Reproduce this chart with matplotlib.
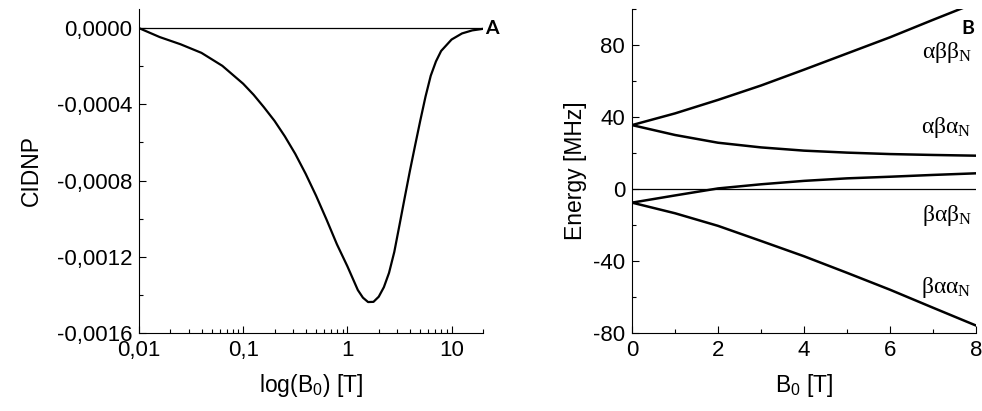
import matplotlib
matplotlib.use("Agg")
import numpy as np
import matplotlib.pyplot as plt
from matplotlib.ticker import FuncFormatter, MultipleLocator, LogLocator, NullFormatter

# panel A: CIDNP vs field (log scale)
b_log = [0.01, 0.0158, 0.0251, 0.0398, 0.0631, 0.1, 0.126, 0.158, 0.2, 0.251,
         0.316, 0.398, 0.501, 0.631, 0.794, 1.0, 1.26, 1.41, 1.58, 1.78, 2.0,
         2.24, 2.51, 2.82, 3.16, 3.55, 3.98, 4.47, 5.01, 5.62, 6.31, 7.08,
         7.94, 10.0, 12.6, 15.8, 20.0]
cidnp_e4 = [0, -0.47, -0.85, -1.30, -1.98, -2.92, -3.50, -4.15, -4.87, -5.68,
            -6.60, -7.65, -8.80, -10.05, -11.35, -12.5, -13.75, -14.15, -14.38,
            -14.37, -14.1, -13.6, -12.85, -11.75, -10.35, -8.9, -7.5, -6.15,
            -4.85, -3.6, -2.5, -1.75, -1.2, -0.6, -0.28, -0.12, -0.04]
cidnp = [v * 1e-4 for v in cidnp_e4]

# panel B: energy levels vs field
b0 = [0, 1, 2, 3, 4, 5, 6, 7, 8]
e_abbN = [35.5, 42, 49.5, 57.5, 66.3, 75.3, 84.3, 94, 103.5]
e_abaN = [35.5, 30, 25.7, 23.1, 21.3, 20.2, 19.4, 18.9, 18.5]
e_babN = [-7.6, -3.6, 0.3, 2.6, 4.5, 5.9, 6.8, 7.8, 8.7]
e_baaN = [-7.6, -13.5, -20.5, -28.9, -37.4, -46.6, -56, -66, -75.9]
level_names = ['αββ$_N$', 'αβα$_N$', 'βαβ$_N$', 'βαα$_N$']
level_y = [76, 34, -15, -55]

plt.rcParams['font.family'] = ['Liberation Sans', 'DejaVu Sans']
plt.rcParams['mathtext.default'] = 'regular'
plt.rcParams['axes.unicode_minus'] = False
plt.rcParams['font.size'] = 16

fig = plt.figure(figsize=(9.82, 4.11), dpi=100)
axA = fig.add_axes([0.1415, 0.19, 0.3503, 0.788])
axB = fig.add_axes([0.6436, 0.19, 0.3503, 0.788])

comma = FuncFormatter(lambda v, p: ('%.4f' % v).replace('.', ','))
logfmt = FuncFormatter(lambda v, p: ('%g' % v).replace('.', ','))

# ---- panel A
axA.plot(b_log, cidnp, color='black', lw=1.6)
axA.axhline(0, color='black', lw=0.9)
axA.set_xscale('log')
axA.set_xlim(0.01, 20)
axA.set_ylim(-0.0016, 0.0001)
axA.yaxis.set_major_locator(MultipleLocator(0.0004))
axA.yaxis.set_minor_locator(MultipleLocator(0.0002))
axA.yaxis.set_major_formatter(comma)
axA.xaxis.set_major_locator(LogLocator(base=10))
axA.xaxis.set_minor_locator(LogLocator(base=10, subs=np.arange(2, 10)))
axA.xaxis.set_minor_formatter(NullFormatter())
axA.xaxis.set_major_formatter(logfmt)
axA.set_xlabel('log(B$_0$) [T]', fontsize=16.5, labelpad=8)
axA.set_ylabel('CIDNP', fontsize=16.5, labelpad=10)
axA.text(1.005, 0.94, 'A', transform=axA.transAxes, fontsize=14,
         fontweight='bold', family=['Lato', 'DejaVu Sans'], va='center', ha='left')

# ---- panel B
for e in [e_abbN, e_abaN, e_babN, e_baaN]:
    axB.plot(b0, e, color='black', lw=1.8)
axB.axhline(0, color='black', lw=0.9)
axB.set_xlim(0, 8)
axB.set_ylim(-80, 100)
axB.xaxis.set_major_locator(MultipleLocator(2))
axB.xaxis.set_minor_locator(MultipleLocator(1))
axB.yaxis.set_major_locator(MultipleLocator(40))
axB.yaxis.set_minor_locator(MultipleLocator(20))
axB.set_xlabel('B$_0$ [T]', fontsize=16.5, labelpad=8)
axB.set_ylabel('Energy [MHz]', fontsize=16.5, labelpad=4)
for name, yy in zip(level_names, level_y):
    axB.text(7.9, yy, name, family=['Liberation Serif', 'DejaVu Serif'],
             fontsize=17, ha='right', va='center')
axB.text(0.995, 0.94, 'B', transform=axB.transAxes, fontsize=14,
         fontweight='bold', family=['Lato', 'DejaVu Sans'], va='center', ha='right')

for ax in [axA, axB]:
    ax.spines['top'].set_visible(False)
    ax.spines['right'].set_visible(False)
    ax.tick_params(which='both', direction='in', width=0.8)
    ax.tick_params(which='major', length=5, pad=5)
    ax.tick_params(which='minor', length=3)

fig.savefig('out.png', dpi=100)
